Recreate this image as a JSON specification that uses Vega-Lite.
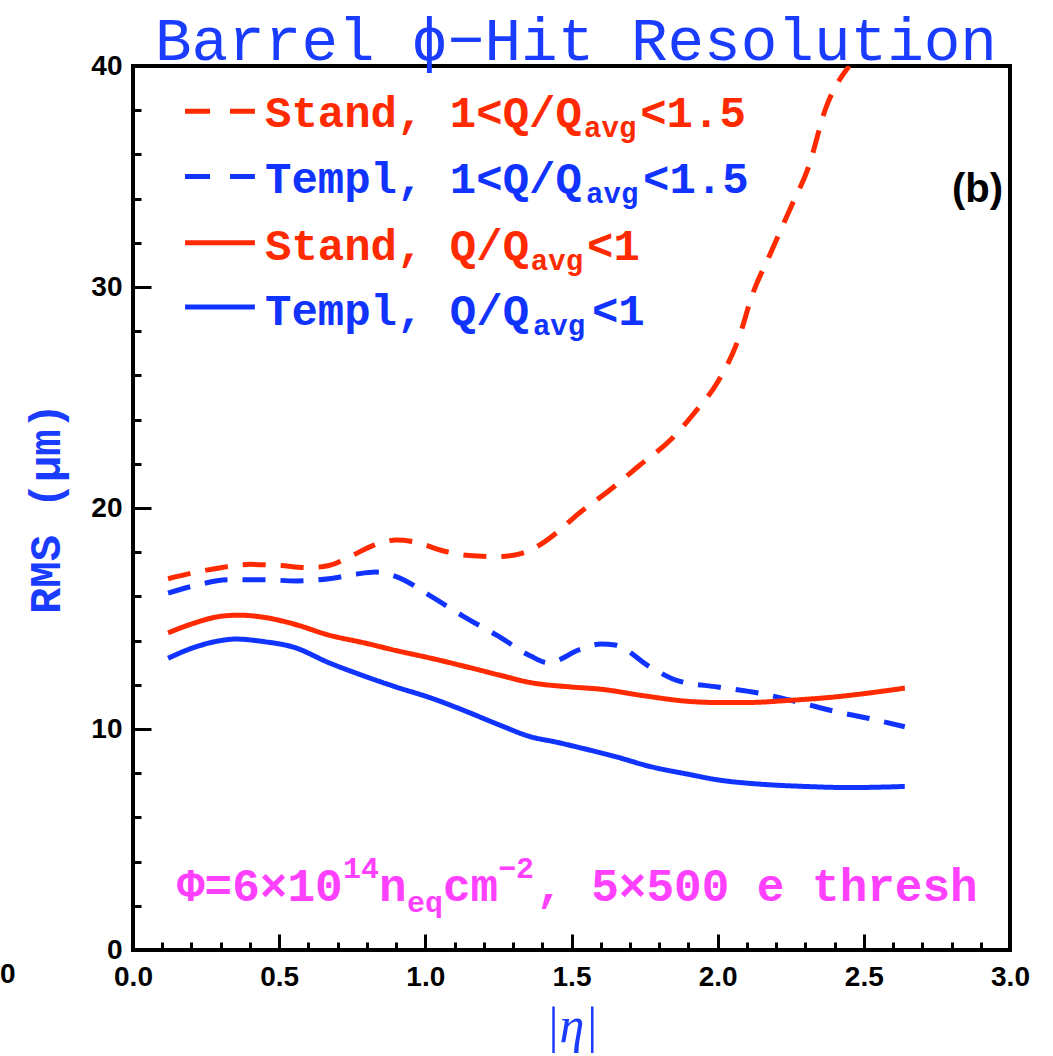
{
  "$schema": "https://vega.github.io/schema/vega-lite/v6.json",
  "width": 877,
  "height": 884,
  "autosize": {"type": "none"},
  "padding": {"left": 133, "top": 66, "right": 43, "bottom": 106},
  "background": "white",
  "config": {
    "view": {"stroke": "black", "strokeWidth": 4},
    "axis": {"grid": false, "domain": false}
  },
  "resolve": {"axis": {"x": "independent", "y": "independent"}},
  "datasets": {
    "curves": [
      {"series": "Stand, 1<Q/Qavg<1.5", "eta": 0.12, "rms": 16.8},
      {"series": "Stand, 1<Q/Qavg<1.5", "eta": 0.2, "rms": 17.05},
      {"series": "Stand, 1<Q/Qavg<1.5", "eta": 0.3, "rms": 17.3},
      {"series": "Stand, 1<Q/Qavg<1.5", "eta": 0.4, "rms": 17.45},
      {"series": "Stand, 1<Q/Qavg<1.5", "eta": 0.5, "rms": 17.4},
      {"series": "Stand, 1<Q/Qavg<1.5", "eta": 0.6, "rms": 17.3},
      {"series": "Stand, 1<Q/Qavg<1.5", "eta": 0.67, "rms": 17.4},
      {"series": "Stand, 1<Q/Qavg<1.5", "eta": 0.75, "rms": 17.85},
      {"series": "Stand, 1<Q/Qavg<1.5", "eta": 0.82, "rms": 18.3},
      {"series": "Stand, 1<Q/Qavg<1.5", "eta": 0.9, "rms": 18.55},
      {"series": "Stand, 1<Q/Qavg<1.5", "eta": 0.97, "rms": 18.45},
      {"series": "Stand, 1<Q/Qavg<1.5", "eta": 1.05, "rms": 18.1},
      {"series": "Stand, 1<Q/Qavg<1.5", "eta": 1.15, "rms": 17.85},
      {"series": "Stand, 1<Q/Qavg<1.5", "eta": 1.25, "rms": 17.8},
      {"series": "Stand, 1<Q/Qavg<1.5", "eta": 1.33, "rms": 17.95},
      {"series": "Stand, 1<Q/Qavg<1.5", "eta": 1.4, "rms": 18.4},
      {"series": "Stand, 1<Q/Qavg<1.5", "eta": 1.46, "rms": 19.0},
      {"series": "Stand, 1<Q/Qavg<1.5", "eta": 1.52, "rms": 19.7},
      {"series": "Stand, 1<Q/Qavg<1.5", "eta": 1.63, "rms": 20.8},
      {"series": "Stand, 1<Q/Qavg<1.5", "eta": 1.73, "rms": 21.9},
      {"series": "Stand, 1<Q/Qavg<1.5", "eta": 1.84, "rms": 23.1},
      {"series": "Stand, 1<Q/Qavg<1.5", "eta": 1.92, "rms": 24.3},
      {"series": "Stand, 1<Q/Qavg<1.5", "eta": 2.0, "rms": 25.7},
      {"series": "Stand, 1<Q/Qavg<1.5", "eta": 2.07, "rms": 27.6},
      {"series": "Stand, 1<Q/Qavg<1.5", "eta": 2.12, "rms": 29.7},
      {"series": "Stand, 1<Q/Qavg<1.5", "eta": 2.18, "rms": 31.5},
      {"series": "Stand, 1<Q/Qavg<1.5", "eta": 2.25, "rms": 33.6},
      {"series": "Stand, 1<Q/Qavg<1.5", "eta": 2.31, "rms": 35.4},
      {"series": "Stand, 1<Q/Qavg<1.5", "eta": 2.37, "rms": 38.1},
      {"series": "Stand, 1<Q/Qavg<1.5", "eta": 2.45, "rms": 40.0},
      {"series": "Templ, 1<Q/Qavg<1.5", "eta": 0.12, "rms": 16.15},
      {"series": "Templ, 1<Q/Qavg<1.5", "eta": 0.2, "rms": 16.45},
      {"series": "Templ, 1<Q/Qavg<1.5", "eta": 0.33, "rms": 16.75},
      {"series": "Templ, 1<Q/Qavg<1.5", "eta": 0.45, "rms": 16.75},
      {"series": "Templ, 1<Q/Qavg<1.5", "eta": 0.56, "rms": 16.7},
      {"series": "Templ, 1<Q/Qavg<1.5", "eta": 0.67, "rms": 16.8},
      {"series": "Templ, 1<Q/Qavg<1.5", "eta": 0.76, "rms": 17.0},
      {"series": "Templ, 1<Q/Qavg<1.5", "eta": 0.83, "rms": 17.1},
      {"series": "Templ, 1<Q/Qavg<1.5", "eta": 0.9, "rms": 16.9},
      {"series": "Templ, 1<Q/Qavg<1.5", "eta": 1.02, "rms": 16.0},
      {"series": "Templ, 1<Q/Qavg<1.5", "eta": 1.13, "rms": 15.1},
      {"series": "Templ, 1<Q/Qavg<1.5", "eta": 1.25, "rms": 14.2},
      {"series": "Templ, 1<Q/Qavg<1.5", "eta": 1.36, "rms": 13.3},
      {"series": "Templ, 1<Q/Qavg<1.5", "eta": 1.42, "rms": 13.0},
      {"series": "Templ, 1<Q/Qavg<1.5", "eta": 1.53, "rms": 13.6},
      {"series": "Templ, 1<Q/Qavg<1.5", "eta": 1.6, "rms": 13.85},
      {"series": "Templ, 1<Q/Qavg<1.5", "eta": 1.65, "rms": 13.8},
      {"series": "Templ, 1<Q/Qavg<1.5", "eta": 1.77, "rms": 12.8},
      {"series": "Templ, 1<Q/Qavg<1.5", "eta": 1.86, "rms": 12.2},
      {"series": "Templ, 1<Q/Qavg<1.5", "eta": 2.0, "rms": 11.9},
      {"series": "Templ, 1<Q/Qavg<1.5", "eta": 2.15, "rms": 11.6},
      {"series": "Templ, 1<Q/Qavg<1.5", "eta": 2.28, "rms": 11.2},
      {"series": "Templ, 1<Q/Qavg<1.5", "eta": 2.4, "rms": 10.8},
      {"series": "Templ, 1<Q/Qavg<1.5", "eta": 2.51, "rms": 10.5},
      {"series": "Templ, 1<Q/Qavg<1.5", "eta": 2.64, "rms": 10.1},
      {"series": "Stand, Q/Qavg<1", "eta": 0.12, "rms": 14.35},
      {"series": "Stand, Q/Qavg<1", "eta": 0.2, "rms": 14.75},
      {"series": "Stand, Q/Qavg<1", "eta": 0.3, "rms": 15.1},
      {"series": "Stand, Q/Qavg<1", "eta": 0.36, "rms": 15.15},
      {"series": "Stand, Q/Qavg<1", "eta": 0.45, "rms": 15.05},
      {"series": "Stand, Q/Qavg<1", "eta": 0.55, "rms": 14.75},
      {"series": "Stand, Q/Qavg<1", "eta": 0.67, "rms": 14.25},
      {"series": "Stand, Q/Qavg<1", "eta": 0.79, "rms": 13.9},
      {"series": "Stand, Q/Qavg<1", "eta": 0.9, "rms": 13.55},
      {"series": "Stand, Q/Qavg<1", "eta": 1.02, "rms": 13.2},
      {"series": "Stand, Q/Qavg<1", "eta": 1.13, "rms": 12.85},
      {"series": "Stand, Q/Qavg<1", "eta": 1.25, "rms": 12.45},
      {"series": "Stand, Q/Qavg<1", "eta": 1.36, "rms": 12.1},
      {"series": "Stand, Q/Qavg<1", "eta": 1.5, "rms": 11.9},
      {"series": "Stand, Q/Qavg<1", "eta": 1.6, "rms": 11.8},
      {"series": "Stand, Q/Qavg<1", "eta": 1.75, "rms": 11.5},
      {"series": "Stand, Q/Qavg<1", "eta": 1.9, "rms": 11.25},
      {"series": "Stand, Q/Qavg<1", "eta": 2.0, "rms": 11.2},
      {"series": "Stand, Q/Qavg<1", "eta": 2.1, "rms": 11.2},
      {"series": "Stand, Q/Qavg<1", "eta": 2.25, "rms": 11.3},
      {"series": "Stand, Q/Qavg<1", "eta": 2.4, "rms": 11.45},
      {"series": "Stand, Q/Qavg<1", "eta": 2.5, "rms": 11.6},
      {"series": "Stand, Q/Qavg<1", "eta": 2.64, "rms": 11.85},
      {"series": "Templ, Q/Qavg<1", "eta": 0.12, "rms": 13.2},
      {"series": "Templ, Q/Qavg<1", "eta": 0.2, "rms": 13.65},
      {"series": "Templ, Q/Qavg<1", "eta": 0.3, "rms": 14.0},
      {"series": "Templ, Q/Qavg<1", "eta": 0.35, "rms": 14.07},
      {"series": "Templ, Q/Qavg<1", "eta": 0.45, "rms": 13.95},
      {"series": "Templ, Q/Qavg<1", "eta": 0.55, "rms": 13.7},
      {"series": "Templ, Q/Qavg<1", "eta": 0.67, "rms": 13.0},
      {"series": "Templ, Q/Qavg<1", "eta": 0.79, "rms": 12.4},
      {"series": "Templ, Q/Qavg<1", "eta": 0.9, "rms": 11.9},
      {"series": "Templ, Q/Qavg<1", "eta": 1.02, "rms": 11.4},
      {"series": "Templ, Q/Qavg<1", "eta": 1.13, "rms": 10.85},
      {"series": "Templ, Q/Qavg<1", "eta": 1.25, "rms": 10.2},
      {"series": "Templ, Q/Qavg<1", "eta": 1.36, "rms": 9.65},
      {"series": "Templ, Q/Qavg<1", "eta": 1.45, "rms": 9.4},
      {"series": "Templ, Q/Qavg<1", "eta": 1.53, "rms": 9.15},
      {"series": "Templ, Q/Qavg<1", "eta": 1.65, "rms": 8.75},
      {"series": "Templ, Q/Qavg<1", "eta": 1.77, "rms": 8.3},
      {"series": "Templ, Q/Qavg<1", "eta": 1.9, "rms": 7.95},
      {"series": "Templ, Q/Qavg<1", "eta": 2.0, "rms": 7.7},
      {"series": "Templ, Q/Qavg<1", "eta": 2.15, "rms": 7.5},
      {"series": "Templ, Q/Qavg<1", "eta": 2.3, "rms": 7.4},
      {"series": "Templ, Q/Qavg<1", "eta": 2.45, "rms": 7.35},
      {"series": "Templ, Q/Qavg<1", "eta": 2.64, "rms": 7.4}
    ],
    "legendLines": [
      {"series": "Stand, 1<Q/Qavg<1.5", "kind": "dash", "x": 0.178, "x2": 0.417, "y": 37.95},
      {"series": "Templ, 1<Q/Qavg<1.5", "kind": "dash", "x": 0.178, "x2": 0.417, "y": 35.0},
      {"series": "Stand, Q/Qavg<1", "kind": "solid", "x": 0.178, "x2": 0.417, "y": 32.0},
      {"series": "Templ, Q/Qavg<1", "kind": "solid", "x": 0.178, "x2": 0.417, "y": 29.1}
    ],
    "legendText": [
      {"series": "Stand, 1<Q/Qavg<1.5", "part": "main", "x": 0.4515, "y": 37.24, "text": "Stand, 1<Q/Q"},
      {"series": "Stand, 1<Q/Qavg<1.5", "part": "sub", "x": 1.543, "y": 37.24, "text": "avg"},
      {"series": "Stand, 1<Q/Qavg<1.5", "part": "main", "x": 1.735, "y": 37.24, "text": "<1.5"},
      {"series": "Templ, 1<Q/Qavg<1.5", "part": "main", "x": 0.4515, "y": 34.25, "text": "Templ, 1<Q/Q"},
      {"series": "Templ, 1<Q/Qavg<1.5", "part": "sub", "x": 1.55, "y": 34.25, "text": "avg"},
      {"series": "Templ, 1<Q/Qavg<1.5", "part": "main", "x": 1.745, "y": 34.25, "text": "<1.5"},
      {"series": "Stand, Q/Qavg<1", "part": "main", "x": 0.4515, "y": 31.22, "text": "Stand, Q/Q"},
      {"series": "Stand, Q/Qavg<1", "part": "sub", "x": 1.361, "y": 31.22, "text": "avg"},
      {"series": "Stand, Q/Qavg<1", "part": "main", "x": 1.553, "y": 31.22, "text": "<1"},
      {"series": "Templ, Q/Qavg<1", "part": "main", "x": 0.4515, "y": 28.28, "text": "Templ, Q/Q"},
      {"series": "Templ, Q/Qavg<1", "part": "sub", "x": 1.368, "y": 28.28, "text": "avg"},
      {"series": "Templ, Q/Qavg<1", "part": "main", "x": 1.57, "y": 28.28, "text": "<1"}
    ],
    "annot": [
      {"part": "main", "x": 0.1505, "y": 2.217, "text": "Φ=6×10"},
      {"part": "sup", "x": 0.7184, "y": 2.217, "text": "14"},
      {"part": "main", "x": 0.8415, "y": 2.217, "text": "n"},
      {"part": "sub", "x": 0.9373, "y": 2.217, "text": "eq"},
      {"part": "main", "x": 1.0605, "y": 2.217, "text": "cm"},
      {"part": "sup", "x": 1.2486, "y": 2.217, "text": "−2"},
      {"part": "main", "x": 1.3786, "y": 2.217, "text": ", 5×500 e thresh"}
    ],
    "panel": [
      {"x": 2.976, "y": 34.39, "text": "(b)"}
    ],
    "heading": [
      {"x": 0.0753, "y": 40.27, "text": "Barrel ϕ−Hit Resolution"}
    ],
    "stray": [
      {"x": -0.428, "y": -1.13, "text": "0"}
    ]
  },
  "layer": [
    {
      "data": {"name": "curves"},
      "mark": {"type": "line", "strokeWidth": 5, "interpolate": "monotone", "clip": true},
      "encoding": {
        "x": {
          "field": "eta", "type": "quantitative",
          "scale": {"domain": [0, 3], "nice": false, "zero": false},
          "axis": {
            "orient": "bottom",
            "values": [0, 0.5, 1, 1.5, 2, 2.5, 3],
            "format": ".1f",
            "tickSize": -16,
            "tickWidth": 3,
            "tickColor": "black",
            "labelFlush": false,
            "labelOverlap": false,
            "labelBound": false,
            "labelFont": "Liberation Sans",
            "labelFontWeight": "bold",
            "labelFontSize": 28,
            "labelColor": "black",
            "labelPadding": 29,
            "title": "|η|",
            "titleFont": "Liberation Serif",
            "titleFontStyle": "italic",
            "titleFontWeight": "normal",
            "titleFontSize": 50,
            "titleColor": "#1a3cff",
            "titlePadding": 10
          }
        },
        "y": {
          "field": "rms", "type": "quantitative",
          "scale": {"domain": [0, 40], "nice": false},
          "axis": {
            "orient": "left",
            "values": [0, 10, 20, 30, 40],
            "tickSize": -18,
            "tickWidth": 3,
            "tickColor": "black",
            "labelFlush": false,
            "labelOverlap": false,
            "labelBound": false,
            "labelFont": "Liberation Sans",
            "labelFontWeight": "bold",
            "labelFontSize": 28,
            "labelColor": "black",
            "labelPadding": 29,
            "title": "RMS (μm)",
            "titleFont": "Liberation Mono",
            "titleFontWeight": "bold",
            "titleFontSize": 44,
            "titleColor": "#1a3cff",
            "titlePadding": 22
          }
        },
        "color": {
          "field": "series", "type": "nominal", "legend": null,
          "scale": {
            "domain": ["Stand, 1<Q/Qavg<1.5", "Templ, 1<Q/Qavg<1.5", "Stand, Q/Qavg<1", "Templ, Q/Qavg<1"],
            "range": ["#ff2a00", "#1033ff", "#ff2a00", "#1033ff"]
          }
        },
        "strokeDash": {
          "field": "series", "type": "nominal", "legend": null,
          "scale": {
            "domain": ["Stand, 1<Q/Qavg<1.5", "Templ, 1<Q/Qavg<1.5", "Stand, Q/Qavg<1", "Templ, Q/Qavg<1"],
            "range": [[23, 15], [23, 15], [1, 0], [1, 0]]
          }
        }
      }
    },
    {
      "data": {"name": "panel"},
      "mark": {"type": "text", "align": "right", "baseline": "middle", "font": "Liberation Sans", "fontWeight": "bold", "fontSize": 40, "color": "black"},
      "encoding": {
        "x": {
          "field": "x", "type": "quantitative",
          "axis": {
            "orient": "bottom",
            "values": [0.1,0.2,0.3,0.4,0.6,0.7,0.8,0.9,1.1,1.2,1.3,1.4,1.6,1.7,1.8,1.9,2.1,2.2,2.3,2.4,2.6,2.7,2.8,2.9],
            "labels": false,
            "tickSize": -8,
            "tickWidth": 3,
            "tickColor": "black",
            "title": null
          }
        },
        "y": {
          "field": "y", "type": "quantitative",
          "axis": {
            "orient": "left",
            "values": [2,4,6,8,12,14,16,18,22,24,26,28,32,34,36,38],
            "labels": false,
            "tickSize": -8,
            "tickWidth": 3,
            "tickColor": "black",
            "title": null
          }
        },
        "text": {"field": "text"}
      }
    },
    {
      "data": {"name": "legendLines"},
      "transform": [{"filter": "datum.kind === 'dash'"}],
      "mark": {"type": "rule", "strokeWidth": 5, "strokeDash": [25, 20]},
      "encoding": {
        "x": {"field": "x", "type": "quantitative", "axis": null},
        "x2": {"field": "x2"},
        "y": {"field": "y", "type": "quantitative", "axis": null},
        "color": {"field": "series", "type": "nominal", "legend": null}
      }
    },
    {
      "data": {"name": "legendLines"},
      "transform": [{"filter": "datum.kind === 'solid'"}],
      "mark": {"type": "rule", "strokeWidth": 5},
      "encoding": {
        "x": {"field": "x", "type": "quantitative", "axis": null},
        "x2": {"field": "x2"},
        "y": {"field": "y", "type": "quantitative", "axis": null},
        "color": {"field": "series", "type": "nominal", "legend": null}
      }
    },
    {
      "data": {"name": "legendText"},
      "transform": [{"filter": "datum.part === 'main'"}],
      "mark": {"type": "text", "align": "left", "baseline": "alphabetic", "font": "Liberation Mono", "fontWeight": "bold", "fontSize": 44},
      "encoding": {
        "x": {"field": "x", "type": "quantitative", "axis": null},
        "y": {"field": "y", "type": "quantitative", "axis": null},
        "text": {"field": "text"},
        "color": {"field": "series", "type": "nominal", "legend": null}
      }
    },
    {
      "data": {"name": "legendText"},
      "transform": [{"filter": "datum.part === 'sub'"}],
      "mark": {"type": "text", "align": "left", "baseline": "alphabetic", "dy": 10, "font": "Liberation Mono", "fontWeight": "bold", "fontSize": 29},
      "encoding": {
        "x": {"field": "x", "type": "quantitative", "axis": null},
        "y": {"field": "y", "type": "quantitative", "axis": null},
        "text": {"field": "text"},
        "color": {"field": "series", "type": "nominal", "legend": null}
      }
    },
    {
      "data": {"name": "annot"},
      "transform": [{"filter": "datum.part === 'main'"}],
      "mark": {"type": "text", "align": "left", "baseline": "alphabetic", "font": "Liberation Mono", "fontWeight": "bold", "fontSize": 46, "color": "#ff40ff"},
      "encoding": {
        "x": {"field": "x", "type": "quantitative", "axis": null},
        "y": {"field": "y", "type": "quantitative", "axis": null},
        "text": {"field": "text"}
      }
    },
    {
      "data": {"name": "annot"},
      "transform": [{"filter": "datum.part === 'sup'"}],
      "mark": {"type": "text", "align": "left", "baseline": "alphabetic", "dy": -23, "font": "Liberation Mono", "fontWeight": "bold", "fontSize": 30, "color": "#ff40ff"},
      "encoding": {
        "x": {"field": "x", "type": "quantitative", "axis": null},
        "y": {"field": "y", "type": "quantitative", "axis": null},
        "text": {"field": "text"}
      }
    },
    {
      "data": {"name": "annot"},
      "transform": [{"filter": "datum.part === 'sub'"}],
      "mark": {"type": "text", "align": "left", "baseline": "alphabetic", "dy": 11, "font": "Liberation Mono", "fontWeight": "bold", "fontSize": 30, "color": "#ff40ff"},
      "encoding": {
        "x": {"field": "x", "type": "quantitative", "axis": null},
        "y": {"field": "y", "type": "quantitative", "axis": null},
        "text": {"field": "text"}
      }
    },
    {
      "data": {"name": "heading"},
      "mark": {"type": "text", "align": "left", "baseline": "alphabetic", "font": "Liberation Mono", "fontSize": 61, "color": "#1a3cff"},
      "encoding": {
        "x": {"field": "x", "type": "quantitative", "axis": null},
        "y": {"field": "y", "type": "quantitative", "axis": null},
        "text": {"field": "text"}
      }
    },
    {
      "data": {"name": "stray"},
      "mark": {"type": "text", "align": "center", "baseline": "middle", "font": "Liberation Sans", "fontWeight": "bold", "fontSize": 28, "color": "black"},
      "encoding": {
        "x": {"field": "x", "type": "quantitative", "axis": null},
        "y": {"field": "y", "type": "quantitative", "axis": null},
        "text": {"field": "text"}
      }
    }
  ]
}
